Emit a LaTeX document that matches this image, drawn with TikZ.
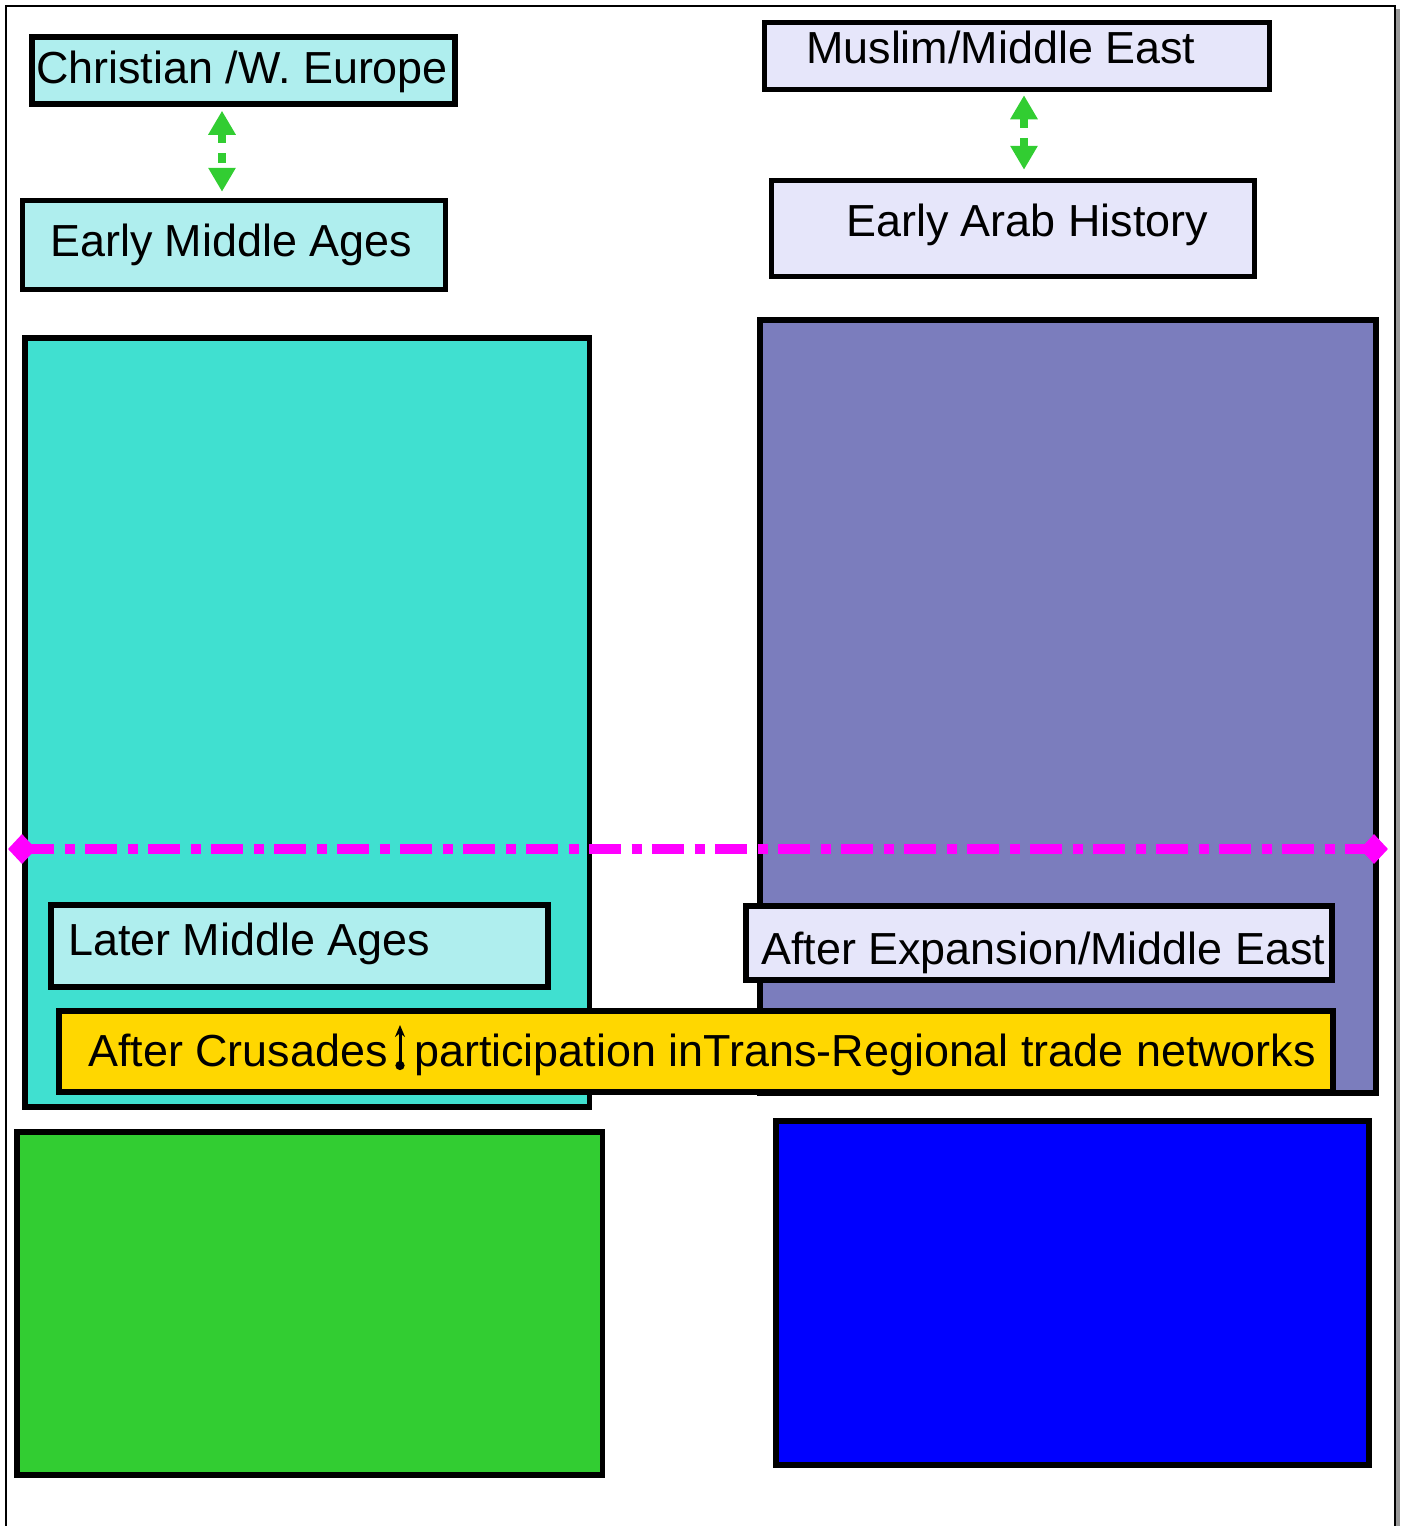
\documentclass[tikz,border=0pt]{standalone}
\usepackage{fontspec}
\setmainfont{Liberation Sans}
\usetikzlibrary{arrows.meta,shapes.geometric}
\definecolor{paleturq}{RGB}{175,238,238}
\definecolor{lavend}{RGB}{230,230,250}
\definecolor{turq}{RGB}{64,224,208}
\definecolor{slatep}{RGB}{123,125,189}
\definecolor{limeg}{RGB}{50,205,50}
\definecolor{magent}{RGB}{255,0,255}
\definecolor{goldy}{RGB}{255,215,0}
\tikzset{
  box/.style={draw=black, line width=5.5pt, rectangle, inner sep=0pt},
  lbl/.style={anchor=base west, inner sep=0pt, font=\fontsize{44.9}{54}\selectfont},
  greenarr/.style={draw=limeg, line width=8pt, dash pattern=on 10pt off 10pt,
     {Triangle[width=26pt,length=24pt,fill=limeg]}-{Triangle[width=26pt,length=24pt,fill=limeg]}, shorten <=0pt, shorten >=0pt},
  endmark/.style={diamond, fill=magent, minimum width=28pt, minimum height=30pt, inner sep=0pt}
}
\begin{document}
\begin{tikzpicture}[x=1pt,y=-1pt]
\useasboundingbox (0,0) rectangle (1404,1526);
% page frame
\fill[gray!80] (1396,9) rectangle (1400,1526);
\draw[line width=2pt] (6,1526) -- (6,6) -- (1395,6) -- (1395,1526);
% top boxes
\node[box, fill=paleturq, minimum width=423pt, minimum height=67pt] (cwe) at (243.5,70.5) {};
\node[lbl] (cwet) at (36,83) {Christian /W. Europe};
\node[box, fill=paleturq, minimum width=423pt, minimum height=89pt] (ema) at (234,245) {};
\node[lbl] (emat) at (50,256) {Early Middle Ages};
\node[box, fill=lavend, minimum width=505pt, minimum height=67pt] (mme) at (1017,56) {};
\node[lbl] (mmet) at (806,63) {Muslim/Middle East};
\node[box, fill=lavend, minimum width=483pt, minimum height=96pt] (eah) at (1013,228.5) {};
\node[lbl] (eaht) at (846,236) {Early Arab History};
% green arrows
\coordinate (xa) at (222,0);
\coordinate (xb) at (1024,0);
\draw[greenarr] ([yshift=-4pt]cwe.south -| xa) -- ([yshift=6pt]ema.north -| xa);
\draw[greenarr] ([yshift=-3pt]mme.south -| xb) -- ([yshift=8pt]eah.north -| xb);
% big regions
\node[box, fill=turq, minimum width=564.5pt, minimum height=769pt] (tq) at (307.25,722.5) {};
\node[box, fill=slatep, minimum width=616pt, minimum height=773pt] (sp) at (1068,706.5) {};
% magenta divider
\node[endmark] (ml) at (22,849) {};
\node[endmark] (mr) at (1374,849) {};
\draw[magent, line width=10pt, dash pattern=on 32pt off 10.5pt on 10pt off 10.5pt] (ml.center) -- (mr.center);
% lower labels
\node[box, fill=paleturq, minimum width=497pt, minimum height=82pt] (lma) at (299.5,946) {};
\node[lbl] (lmat) at (68,955) {Later Middle Ages};
\node[box, fill=lavend, minimum width=586pt, minimum height=74pt] (aem) at (1039,943) {};
\node[lbl] (aemt) at (761,964) {After Expansion/Middle East};
\node[box, fill=goldy, minimum width=1274pt, minimum height=81pt] (yl) at (696,1051.5) {};
\node[lbl] (ylt1) at (88,1066) {After Crusades};
\node[lbl] (ylt2) at (414,1066) {participation inTrans-Regional trade networks};
\coordinate (upa) at (400,1070);
\coordinate (upb) at (400,1025);
\draw[line width=3pt, {Circle[length=9pt]}-{Stealth[length=12pt,width=10pt]}] (upa) -- (upb);
% bottom boxes
\node[box, fill=limeg, minimum width=585.5pt, minimum height=343pt] (gb) at (309.75,1303.5) {};
\node[box, fill=blue, minimum width=593pt, minimum height=344pt] (bb) at (1072.5,1293) {};
\end{tikzpicture}
\end{document}
